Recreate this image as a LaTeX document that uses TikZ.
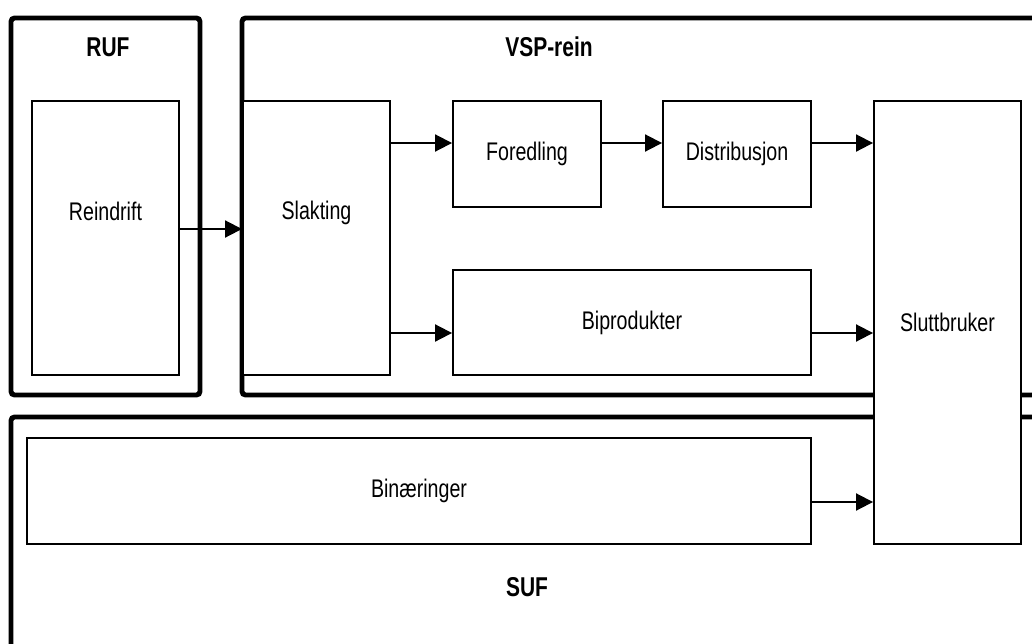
\documentclass[tikz,border=0pt]{standalone}
\usepackage{fontspec}
\setmainfont{Liberation Sans}[FakeStretch=0.77]
\usetikzlibrary{arrows.meta}
\tikzset{
  frm/.style ={line width=2.8pt, rounded corners=2pt},
  blk/.style ={draw, rectangle, inner sep=0pt, fill=white,
               line width=1.1pt},
  ttl/.style ={font=\fontsize{15.5}{17}\selectfont\bfseries},
  flw/.style ={-{Triangle[length=3.4mm, width=3.4mm]}, line width=1.1pt},
}

\begin{document}
\begin{tikzpicture}[x=0.02cm, y=-0.02cm, font=\fontsize{14.5}{16}\selectfont]
  \clip (0,0) rectangle (1032,643);
  % outer frames
  \draw[frm] (11,18) rectangle (200,395);
  \draw[frm] (242,18) rectangle (1060,395);
  \draw[frm] (11,417) rectangle (1060,690);
  \node[ttl] (ruf) at (108,47) {RUF};
  \node[ttl] (vsp) at (549,47) {VSP-rein};
  \node[ttl] (suf) at (527,587) {SUF};
  % blocks
  \node[blk, minimum width=2.94cm, minimum height=5.48cm,
        label={[yshift=5.4mm]center:Reindrift}] (reindrift) at (105.5,238) {};
  \node[blk, minimum width=2.94cm, minimum height=5.48cm,
        label={[yshift=5.1mm]center:Slakting}] (slakting) at (316.5,238) {};
  \node[blk, minimum width=2.96cm, minimum height=2.12cm] (foredling)
    at (527,154) {Foredling};
  \node[blk, minimum width=2.96cm, minimum height=2.12cm] (distrib)
    at (737,154) {Distribusjon};
  \node[blk, minimum width=7.16cm, minimum height=2.1cm] (biprod)
    at (632,322.5) {Biprodukter};
  \node[blk, minimum width=15.68cm, minimum height=2.12cm] (binaer)
    at (419,491) {Binæringer};
  \node[blk, minimum width=2.94cm, minimum height=8.86cm] (sluttbruker)
    at (947.5,322.5) {Sluttbruker};
  % flows
  \draw[flw] ([yshift=1.8mm]reindrift.east) -- ([yshift=1.8mm]slakting.west);
  \draw[flw] ([yshift=2.2mm]foredling.west -| slakting.east)
    -- ([yshift=2.2mm]foredling.west);
  \draw[flw] ([yshift=-2.1mm]biprod.west -| slakting.east)
    -- ([yshift=-2.1mm]biprod.west);
  \draw[flw] ([yshift=2.2mm]foredling.east) -- ([yshift=2.2mm]distrib.west);
  \draw[flw] ([yshift=2.2mm]distrib.east)
    -- ([yshift=2.2mm]distrib.east -| sluttbruker.west);
  \draw[flw] ([yshift=-2.1mm]biprod.east)
    -- ([yshift=-2.1mm]biprod.east -| sluttbruker.west);
  \draw[flw] ([yshift=-2.2mm]binaer.east)
    -- ([yshift=-2.2mm]binaer.east -| sluttbruker.west);
\end{tikzpicture}
\end{document}
